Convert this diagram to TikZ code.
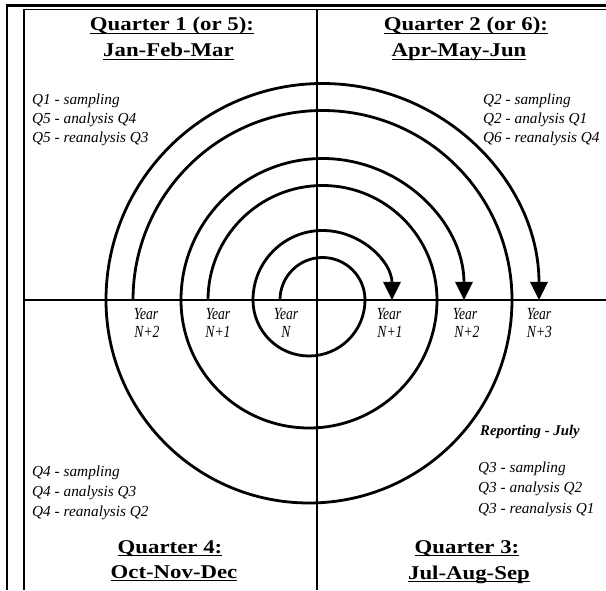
\documentclass[tikz,border=0pt]{standalone}
\usepackage{fontspec}
\setmainfont{Liberation Serif}
\newfontfamily\hdfont[FakeStretch=1.17]{Liberation Serif}
\newfontfamily\yrfont[FakeStretch=0.8]{Liberation Serif}
\usetikzlibrary{arrows.meta}
\newcommand\ulx[1]{\setbox0\hbox{#1}\rlap{\rule[-3.2pt]{\wd0}{1.4pt}}\box0}
\begin{document}
\begin{tikzpicture}[x=1pt,y=1pt,
  head/.style={font=\hdfont\bfseries\fontsize{19.5}{22}\selectfont, inner sep=0pt, anchor=base},
  item/.style={font=\itshape\fontsize{15.3}{18}\selectfont, inner sep=0pt, anchor=base west},
  yr/.style={font=\yrfont\itshape\fontsize{17}{18}\selectfont, inner sep=0pt, anchor=base},
  spiral/.style={line width=2.8pt, -{Triangle[width=17pt,length=18pt]}},
  axisline/.style={line width=1.3pt}]
\useasboundingbox (0,0) rectangle (606,590);
% frame
\draw[line width=3pt] (5.8,584.5) -- (606,584.5);
\draw[line width=2.5pt] (7,586) -- (7,0);
\draw[line width=1.3pt] (23,580.5) -- (606,580.5);
\draw[line width=2pt] (24,581) -- (24,0);
% axes
\draw[axisline] (24,290) -- (606,290);
\draw[axisline] (317,580.5) -- (317,0);
% spirals
\draw[spiral] (280,290) arc[start angle=180,end angle=0,radius=42.5]
  arc[start angle=0,end angle=-180,radius=56]
  arc[start angle=180,end angle=0,radius=69.5];
\draw[spiral] (208,290) arc[start angle=180,end angle=0,radius=114.5]
  arc[start angle=0,end angle=-180,radius=128]
  arc[start angle=180,end angle=0,radius=141.5];
\draw[spiral] (133,290) arc[start angle=180,end angle=0,radius=189.5]
  arc[start angle=0,end angle=-180,radius=203]
  arc[start angle=180,end angle=0,radius=216.5];
% headers
\node[head] (q1a) at (172,559) {\ulx{Quarter 1 (or 5):}};
\node[head] (q1b) at (168.5,533) {\ulx{Jan-Feb-Mar}};
\node[head] (q2a) at (466,559) {\ulx{Quarter 2 (or 6):}};
\node[head] (q2b) at (459,533) {\ulx{Apr-May-Jun}};
\node[head] (q4a) at (170,37) {\ulx{Quarter 4:}};
\node[head] (q4b) at (174,12) {\ulx{Oct-Nov-Dec}};
\node[head] (q3a) at (467,37) {\ulx{Quarter 3:}};
\node[head] (q3b) at (469,11) {\ulx{Jul-Aug-Sep}};
% quarter items
\node[item] (i1a) at (32,485) {Q1 - sampling};
\node[item] (i1b) at (32,466) {Q5 - analysis Q4};
\node[item] (i1c) at (32,447) {Q5 - reanalysis Q3};
\node[item] (i2a) at (483,485) {Q2 - sampling};
\node[item] (i2b) at (483,466) {Q2 - analysis Q1};
\node[item] (i2c) at (483,447) {Q6 - reanalysis Q4};
\node[item] (i4a) at (32,113) {Q4 - sampling};
\node[item] (i4b) at (32,93) {Q4 - analysis Q3};
\node[item] (i4c) at (32,74) {Q4 - reanalysis Q2};
\node[item] (i3a) at (478,117) {Q3 - sampling};
\node[item] (i3b) at (478,97) {Q3 - analysis Q2};
\node[item] (i3c) at (478,77) {Q3 - reanalysis Q1};
\node[item, font=\bfseries\itshape\fontsize{14.8}{18}\selectfont] (rep) at (480,154) {Reporting - July};
% year labels
\node[yr] (y1a) at (146,270) {Year};  \node[yr] (y1b) at (147,252) {N+2};
\node[yr] (y2a) at (218,270) {Year};  \node[yr] (y2b) at (218,252) {N+1};
\node[yr] (y3a) at (286,270) {Year};  \node[yr] (y3b) at (286,252) {N};
\node[yr] (y4a) at (389,270) {Year};  \node[yr] (y4b) at (390,252) {N+1};
\node[yr] (y5a) at (465,270) {Year};  \node[yr] (y5b) at (467,252) {N+2};
\node[yr] (y6a) at (539,270) {Year};  \node[yr] (y6b) at (539.5,252) {N+3};
\end{tikzpicture}
\end{document}
